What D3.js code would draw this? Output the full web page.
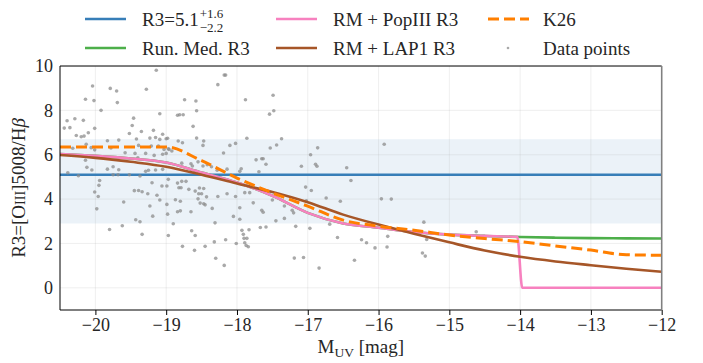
<!DOCTYPE html>
<html>
<head>
<meta charset="utf-8">
<script src="https://cdn.jsdelivr.net/npm/d3@7"></script>
<style>
  body { margin: 0; background: #fff; }
  svg text { font-family: "Liberation Serif", "DejaVu Serif", serif; }
</style>
</head>
<body>
<svg id="chart" width="703" height="363"></svg>
<script>
// ---- data ----
var MUV_TICKS = [-20, -19, -18, -17, -16, -15, -14, -13, -12];
var R3_TICKS = [0, 2, 4, 6, 8, 10];

var R3_MEAN = 5.1, R3_UP = 1.6, R3_DOWN = 2.2;

// running median / model curves sampled on this grid
var curveMuv = [-20.5, -20, -19.5, -19, -18.5, -18, -17.5, -17, -16.5, -16, -15.5, -15, -14.5, -14, -13.5, -13, -12.5, -12];
var runMedR3 = [6.03, 5.95, 5.83, 5.65, 5.20, 4.75, 4.15, 3.38, 2.90, 2.71, 2.52, 2.40, 2.34, 2.29, 2.26, 2.24, 2.23, 2.22];
var lap1R3   = [5.99, 5.86, 5.68, 5.46, 5.10, 4.70, 4.32, 3.86, 3.30, 2.85, 2.44, 2.05, 1.68, 1.40, 1.19, 1.02, 0.86, 0.72];
var k26R3    = [6.35, 6.35, 6.35, 6.35, 5.73, 4.95, 4.28, 3.68, 3.05, 2.78, 2.60, 2.38, 2.22, 2.08, 1.89, 1.70, 1.49, 1.47];

// PopIII curve follows the running median and drops to zero past -14
var popMuv = [-20.5, -20, -19.5, -19, -18.5, -18, -17.5, -17, -16.5, -16, -15.5, -15, -14.5, -14.04, -13.97, -12];
var popR3  = [6.03, 5.95, 5.83, 5.65, 5.20, 4.75, 4.15, 3.38, 2.90, 2.71, 2.52, 2.40, 2.34, 2.30, 0, 0];

// individual galaxies [M_UV, R3]
var dataPoints = [
  [-19.14,9.81],[-20.04,9.10],[-19.79,8.99],[-19.70,8.87],[-19.28,8.95],[-20.14,8.50],[-20.02,8.44],[-19.69,8.35],
  [-19.92,8.00],[-19.09,7.85],[-20.40,7.53],[-20.29,7.62],[-20.17,7.55],[-19.46,7.65],[-20.44,7.20],[-20.36,7.22],
  [-20.01,7.19],[-19.48,7.32],[-20.10,6.99],[-20.27,6.87],[-20.20,6.81],[-20.16,6.84],[-19.35,7.05],[-19.18,7.10],
  [-19.52,6.96],[-19.23,6.75],[-19.15,6.78],[-19.05,6.92],[-19.09,6.69],[-19.00,6.72],[-19.83,6.63],[-19.67,6.66],
  [-19.42,6.71],[-20.32,6.29],[-20.13,6.47],[-20.06,6.32],[-20.01,6.22],[-19.78,6.30],[-19.39,6.42],[-19.21,6.39],
  [-19.11,6.39],[-19.03,6.24],[-19.58,6.09],[-19.44,6.06],[-19.29,6.06],[-19.17,5.97],[-19.05,6.02],[-20.14,5.75],
  [-19.40,5.86],[-18.97,6.27],[-20.12,5.43],[-20.05,5.31],[-19.83,5.35],[-19.75,5.46],[-19.67,5.32],[-20.39,5.19],
  [-20.24,5.05],[-19.75,5.10],[-19.68,5.10],[-19.52,5.10],[-19.37,5.04],[-19.29,5.25],[-19.25,5.30],[-19.15,5.31],
  [-19.05,5.34],[-19.94,4.84],[-19.95,4.62],[-19.06,4.59],[-18.99,4.59],[-19.20,4.74],[-20.01,4.32],[-19.96,4.12],
  [-19.45,4.38],[-19.39,4.39],[-19.34,4.33],[-19.26,4.24],[-19.13,4.17],[-19.09,3.96],[-19.60,3.87],[-18.99,3.76],
  [-19.23,3.69],[-19.98,3.56],[-18.98,3.32],[-19.19,3.23],[-19.43,3.07],[-19.37,2.98],[-19.62,2.80],[-19.80,2.63],
  [-19.34,2.41],[-18.97,2.36],
  [-18.18,9.59],[-18.16,9.59],[-18.27,9.16],[-18.74,8.48],[-18.58,8.42],[-17.88,8.48],[-18.57,7.98],[-17.49,8.68],
  [-17.48,7.98],[-17.54,7.83],[-18.84,7.78],[-18.81,7.80],[-18.76,7.80],[-18.62,7.28],[-18.98,6.74],[-18.57,6.75],
  [-18.83,6.62],[-18.77,6.54],[-18.47,6.62],[-18.48,6.42],[-18.02,6.51],[-18.10,6.42],[-17.86,6.74],[-17.53,6.30],
  [-18.96,6.24],[-18.92,6.17],[-19.00,6.06],[-18.19,6.08],[-17.73,5.77],[-17.65,5.82],[-17.63,5.82],[-17.59,5.57],
  [-18.78,5.62],[-18.65,5.59],[-18.63,5.49],[-18.55,5.68],[-18.48,5.49],[-18.42,5.55],[-18.36,5.46],[-18.28,5.30],
  [-18.14,5.35],[-17.94,5.37],[-17.96,5.25],[-17.69,5.23],[-18.97,4.89],[-18.84,4.72],[-18.78,4.80],[-18.72,4.80],
  [-18.82,4.51],[-18.79,4.51],[-18.68,4.44],[-18.59,4.36],[-18.53,4.50],[-18.47,4.48],[-18.54,4.24],[-18.50,4.24],
  [-18.43,4.10],[-18.27,4.12],[-18.14,4.24],[-18.02,4.12],[-17.89,4.29],[-17.82,4.29],[-18.87,3.97],[-18.80,3.90],
  [-18.55,4.01],[-18.52,3.82],[-18.47,3.79],[-18.45,3.74],[-18.35,3.58],[-18.84,3.43],[-18.80,3.47],[-18.65,3.43],
  [-17.96,3.61],[-17.77,3.83],[-17.65,3.50],[-17.63,3.41],[-18.05,3.22],[-17.96,3.09],[-18.90,2.89],[-18.31,2.93],
  [-17.67,2.72],[-17.59,2.74],[-18.64,2.57],[-18.59,2.36],[-17.93,2.59],[-17.83,2.62],[-17.91,2.41],[-18.16,2.17],
  [-17.90,2.23],[-17.86,2.23],[-18.32,2.07],[-18.01,2.00],[-17.89,2.03],[-17.87,1.91],[-17.84,1.85],[-18.77,1.87],
  [-18.45,1.87],[-18.60,1.69],[-18.30,1.33],[-18.18,1.01],
  [-17.37,6.72],[-17.44,6.44],[-17.09,5.48],[-16.96,6.00],[-16.86,6.31],[-16.89,5.57],[-16.87,5.48],[-16.45,5.41],
  [-16.39,4.84],[-15.92,6.47],[-17.03,4.54],[-16.95,4.39],[-17.02,3.92],[-17.50,3.96],[-17.33,3.69],[-17.22,3.50],
  [-17.20,3.38],[-16.74,4.05],[-16.54,3.90],[-15.96,4.01],[-15.82,4.00],[-17.45,3.02],[-17.33,3.13],[-17.17,2.77],
  [-16.97,2.68],[-16.69,2.87],[-16.58,2.27],[-16.24,2.17],[-16.17,2.03],[-16.05,1.80],[-15.87,2.32],[-15.88,1.84],
  [-15.36,2.96],[-15.32,2.18],[-15.38,1.57],[-15.34,1.43],[-17.19,1.34],[-17.06,1.37],[-16.34,1.24],[-16.84,0.89],
  [-14.62,2.53]
];

// ---- layout ----
var PLOT_LEFT = 60, PLOT_RIGHT = 661.7, PLOT_TOP = 66, PLOT_BOTTOM = 310;
var BLUE = "#377eb8", GREEN = "#4daf4a", PINK = "#f781bf", BROWN = "#a65628", ORANGE = "#ff7f00";
var SERIF = "Liberation Serif";
var TEXT_COLOR = "#262626";
var TICK_FONT = 18, LABEL_FONT = 19;

var svg = d3.select("#chart").attr("font-family", SERIF);

var xScale = d3.scaleLinear().domain([-20.5, -12]).range([PLOT_LEFT, PLOT_RIGHT]);
var yScale = d3.scaleLinear().domain([-1, 10]).range([PLOT_BOTTOM, PLOT_TOP]);

svg.append("clipPath").attr("id", "plot-clip")
    .append("rect")
    .attr("x", PLOT_LEFT).attr("y", PLOT_TOP)
    .attr("width", PLOT_RIGHT - PLOT_LEFT).attr("height", PLOT_BOTTOM - PLOT_TOP);

var plot = svg.append("g").attr("clip-path", "url(#plot-clip)");

// 1-sigma band
plot.append("rect")
    .attr("x", PLOT_LEFT)
    .attr("y", yScale(R3_MEAN + R3_UP))
    .attr("width", PLOT_RIGHT - PLOT_LEFT)
    .attr("height", yScale(R3_MEAN - R3_DOWN) - yScale(R3_MEAN + R3_UP))
    .attr("fill", BLUE)
    .attr("fill-opacity", 0.1);

// gridlines
plot.selectAll(".xgrid").data(MUV_TICKS).enter().append("line")
    .attr("x1", d => xScale(d)).attr("x2", d => xScale(d))
    .attr("y1", PLOT_TOP).attr("y2", PLOT_BOTTOM)
    .attr("stroke", "#b0b0b0").attr("stroke-opacity", 0.25).attr("stroke-width", 0.8);
plot.selectAll(".ygrid").data(R3_TICKS).enter().append("line")
    .attr("x1", PLOT_LEFT).attr("x2", PLOT_RIGHT)
    .attr("y1", d => yScale(d)).attr("y2", d => yScale(d))
    .attr("stroke", "#b0b0b0").attr("stroke-opacity", 0.25).attr("stroke-width", 0.8);

// mean line
plot.append("line")
    .attr("x1", PLOT_LEFT).attr("x2", PLOT_RIGHT)
    .attr("y1", yScale(R3_MEAN)).attr("y2", yScale(R3_MEAN))
    .attr("stroke", BLUE).attr("stroke-width", 2.6);

// data points
plot.selectAll(".pt").data(dataPoints).enter().append("circle")
    .attr("class", "pt")
    .attr("cx", d => xScale(d[0]))
    .attr("cy", d => yScale(d[1]))
    .attr("r", 1.8)
    .attr("fill", "#8c8c8c")
    .attr("fill-opacity", 0.75);

function drawCurve(xs, ys, color, dash) {
    var lineGenerator = d3.line()
        .x(d => xScale(d[0]))
        .y(d => yScale(d[1]))
        .curve(d3.curveMonotoneX);
    var path = plot.append("path")
        .attr("d", lineGenerator(d3.zip(xs, ys)))
        .attr("fill", "none")
        .attr("stroke", color)
        .attr("stroke-width", 2.6);
    if (dash) {
        path.attr("stroke-dasharray", dash).attr("stroke-width", 3);
    }
}

drawCurve(curveMuv, runMedR3, GREEN);
drawCurve(popMuv, popR3, PINK);
drawCurve(curveMuv, lap1R3, BROWN);
drawCurve(curveMuv, k26R3, ORANGE, "11,5");

// axes
var xAxis = d3.axisBottom(xScale).tickValues(MUV_TICKS).tickSize(5).tickSizeOuter(0).tickPadding(3);
var gx = svg.append("g").attr("transform", "translate(0," + PLOT_BOTTOM + ")").call(xAxis);
gx.select(".domain").remove();
gx.selectAll(".tick line").attr("stroke", "#000");

var yAxis = d3.axisLeft(yScale).tickValues(R3_TICKS).tickSize(0).tickPadding(7);
var gy = svg.append("g").attr("transform", "translate(" + PLOT_LEFT + ",0)").call(yAxis);
gy.select(".domain").remove();

gx.attr("font-family", SERIF).attr("font-size", TICK_FONT);
gy.attr("font-family", SERIF).attr("font-size", TICK_FONT);
svg.selectAll(".tick text").attr("fill", TEXT_COLOR);

// frame
svg.append("line").attr("x1", PLOT_LEFT).attr("x2", PLOT_RIGHT).attr("y1", PLOT_TOP).attr("y2", PLOT_TOP)
    .attr("stroke", "#000").attr("stroke-width", 1);
svg.append("line").attr("x1", PLOT_LEFT).attr("x2", PLOT_RIGHT).attr("y1", PLOT_BOTTOM).attr("y2", PLOT_BOTTOM)
    .attr("stroke", "#000").attr("stroke-width", 1);
svg.append("line").attr("x1", PLOT_LEFT).attr("x2", PLOT_LEFT).attr("y1", PLOT_TOP).attr("y2", PLOT_BOTTOM)
    .attr("stroke", "#000").attr("stroke-width", 1);
svg.append("line").attr("x1", PLOT_RIGHT).attr("x2", PLOT_RIGHT).attr("y1", PLOT_TOP).attr("y2", PLOT_BOTTOM)
    .attr("stroke", "#808080").attr("stroke-width", 1.6);

// axis labels
var xLabel = svg.append("text")
    .attr("x", (PLOT_LEFT + PLOT_RIGHT) / 2)
    .attr("y", 353)
    .attr("text-anchor", "middle")
    .attr("font-size", LABEL_FONT)
    .attr("fill", TEXT_COLOR);
xLabel.append("tspan").text("M");
xLabel.append("tspan").attr("font-size", 13.5).attr("dy", 4).text("UV");
xLabel.append("tspan").attr("dy", -4).text(" [mag]");

var yLabel = svg.append("text")
    .attr("transform", "translate(25," + (PLOT_TOP + PLOT_BOTTOM) / 2 + ") rotate(-90)")
    .attr("text-anchor", "middle")
    .attr("font-size", LABEL_FONT)
    .attr("fill", TEXT_COLOR);
yLabel.append("tspan").text("R3=[O");
yLabel.append("tspan").attr("font-size", 14).text("III");
yLabel.append("tspan").text("]5008/H");
yLabel.append("tspan").attr("font-style", "italic").text("β");

// legend
var LEGEND = [
    {label: null, color: BLUE, col: 0, row: 0},
    {label: "Run. Med. R3", color: GREEN, col: 0, row: 1},
    {label: "RM + PopIII R3", color: PINK, col: 1, row: 0},
    {label: "RM + LAP1 R3", color: BROWN, col: 1, row: 1},
    {label: "K26", color: ORANGE, col: 2, row: 0, dash: "11,5"},
    {label: "Data points", color: "#8c8c8c", col: 2, row: 1, point: true}
];
var LEG_LINE_X = [85, 276, 488];
var LEG_TEXT_X = [142, 333, 543];
var LEG_ROW_Y = [19, 48];

LEGEND.forEach(function (item) {
    var lx = LEG_LINE_X[item.col], ly = LEG_ROW_Y[item.row];
    if (item.point) {
        svg.append("circle").attr("cx", lx + 20).attr("cy", ly).attr("r", 1.3)
            .attr("fill", item.color).attr("fill-opacity", 0.75);
    } else {
        var l = svg.append("line")
            .attr("x1", lx).attr("x2", lx + 41).attr("y1", ly).attr("y2", ly)
            .attr("stroke", item.color).attr("stroke-width", 2.6);
        if (item.dash) l.attr("stroke-dasharray", item.dash).attr("stroke-width", 3);
    }
    if (item.label) {
        svg.append("text")
            .attr("x", LEG_TEXT_X[item.col]).attr("y", ly + 7)
            .attr("font-size", LABEL_FONT).attr("fill", TEXT_COLOR)
            .text(item.label);
    }
});

// mean label with asymmetric errors
var meanText = svg.append("text")
    .attr("x", LEG_TEXT_X[0]).attr("y", LEG_ROW_Y[0] + 7)
    .attr("font-size", LABEL_FONT).attr("fill", TEXT_COLOR)
    .text("R3=" + R3_MEAN.toFixed(1));
var mw = meanText.node().getComputedTextLength();
svg.append("text")
    .attr("x", LEG_TEXT_X[0] + mw + 1).attr("y", LEG_ROW_Y[0] - 1)
    .attr("font-size", 13).attr("fill", TEXT_COLOR)
    .text("+" + R3_UP.toFixed(1));
svg.append("text")
    .attr("x", LEG_TEXT_X[0] + mw + 1).attr("y", LEG_ROW_Y[0] + 13)
    .attr("font-size", 13).attr("fill", TEXT_COLOR)
    .text("\u2212" + R3_DOWN.toFixed(1));
</script>
</body>
</html>
